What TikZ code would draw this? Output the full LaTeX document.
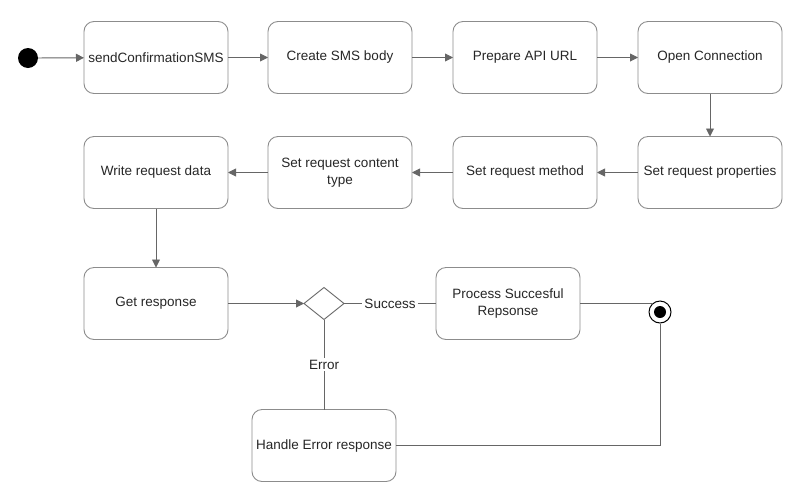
\documentclass[tikz,border=0pt]{standalone}
\usepackage{fontspec}
\setmainfont{Liberation Sans}
\usetikzlibrary{positioning,arrows.meta,shapes.geometric}

\begin{document}
\begin{tikzpicture}[
  x=1pt, y=-1pt,
  node distance = 40pt and 40pt,
  snode/.style={rectangle, rounded corners=10pt, draw=black!45, line width=0.9pt, minimum width=144pt, minimum height=72pt, align=center, inner sep=0pt, outer sep=0pt, font=\fontsize{13.5}{17}\selectfont, text=black!85},
  dnode/.style={diamond, draw=black!60, line width=0.9pt, minimum width=40pt, minimum height=32pt, inner sep=0pt, outer sep=0pt},
  arw/.style={-{Triangle[length=8pt,width=8pt]}, draw=black!60, line width=0.9pt},
  symline/.style={-, draw=black!60, line width=0.9pt},
  lbl/.style={fill=white, inner sep=2pt, font=\fontsize{13.5}{15}\selectfont, text=black!85}
  ]
\useasboundingbox (0,0) rectangle (802,496);

% first row
\node [circle, fill=black, minimum size=20pt, inner sep=0pt] (start) at (28,58) {};
\node [snode] (s1) at (156,57.5) {sendConfirmationSMS};
\node [snode, right=40pt of s1] (s2) {Create SMS body};
\node [snode, right=41pt of s2] (s3) {Prepare API URL};
\node [snode, right=41pt of s3] (s4) {Open Connection};

% second row
\node [snode, below=43pt of s4] (s5) {Set request properties};
\node [snode, left=41pt of s5] (s6) {Set request method};
\node [snode, left=41pt of s6] (s7) {Set request content\\type};
\node [snode, left=40pt of s7] (s8) {Write request data};

% third row
\node [snode, below=59pt of s8] (s9) {Get response};
\node [dnode, right=76pt of s9] (dec) {};
\node [snode, right=92pt of dec] (s10) {Process Succesful\\Repsonse};
\node [snode, below=90pt of dec] (s11) {Handle Error response};
\node [circle, draw=black, line width=1pt, fill=white, minimum size=22pt, inner sep=0pt] (end) at (660,312) {};
\node [circle, fill=black, minimum size=12pt, inner sep=0pt] (endin) at (end.center) {};

\draw [arw] (start) -- (s1);
\draw [arw] (s1) -- (s2);
\draw [arw] (s2) -- (s3);
\draw [arw] (s3) -- (s4);
\draw [arw] (s4) -- (s5);
\draw [arw] (s5) -- (s6);
\draw [arw] (s6) -- (s7);
\draw [arw] (s7) -- (s8);
\draw [arw] (s8) -- (s9);
\draw [arw] (s9) -- (dec);

%branches
\draw [symline] (dec) -- node [lbl] {Success} (s10);
\draw [symline] (dec) -- node [lbl] {Error} (s11);
\draw [symline] (s10.east) -- (s10.east -| end.128);
\draw [symline] (s11) -| (end);

\end{tikzpicture}
\end{document}
